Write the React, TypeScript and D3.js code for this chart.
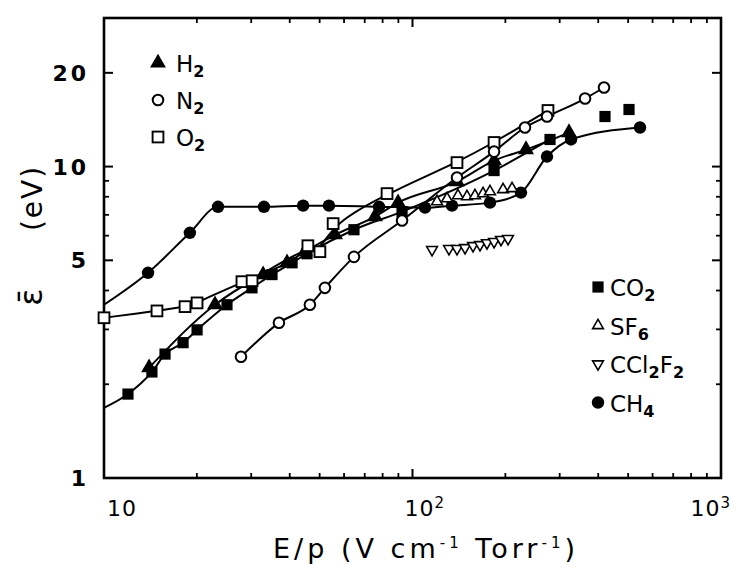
import * as d3 from "d3";

// ---- data (E/p in V cm-1 Torr-1, mean energy in eV) ----------------------
const h2X = [14.0, 22.9, 32.8, 39.2, 44.8, 56.1, 75.6, 89.8, 139.4, 183.8, 233.3, 321.6];
const h2Y = [2.26, 3.6, 4.5, 4.91, 5.33, 6.04, 6.91, 7.66, 8.95, 10.45, 11.34, 12.86];

const n2X = [27.8, 36.9, 46.5, 52.0, 64.6, 92.5, 139.4, 183.8, 231.5, 272.9, 362.5, 417.6];
const n2Y = [2.45, 3.15, 3.6, 4.08, 5.13, 6.71, 9.22, 11.17, 13.35, 14.48, 16.54, 17.95];

const o2X = [10.0, 14.85, 18.31, 20.03, 28.0, 30.2, 45.8, 50.1, 55.3, 82.7, 139.4, 183.8, 274.9];
const o2Y = [3.27, 3.44, 3.55, 3.65, 4.27, 4.3, 5.57, 5.33, 6.56, 8.19, 10.3, 11.95, 15.14];

const co2X = [11.96, 14.3, 15.77, 18.04, 20.03, 25.04, 30.18, 35.04, 40.7, 45.5, 64.6, 92.5, 183.8, 279.1, 420.7, 503.3];
const co2Y = [1.86, 2.19, 2.5, 2.72, 2.99, 3.6, 4.08, 4.5, 4.91, 5.25, 6.27, 7.17, 9.71, 12.22, 14.48, 15.25];
const co2EdgeY = 1.68; // curve value at E/p = 10
const co2CurveMaxX = 300; // points beyond this are not joined

const sf6X = [120.1, 129.4, 140.4, 150.2, 159.4, 169.3, 178.3, 196.6, 210.2];
const sf6Y = [7.72, 7.89, 8.07, 8.01, 8.07, 8.19, 8.31, 8.44, 8.5];

const ccl2f2X = [115.7, 131.3, 139.4, 148.0, 157.1, 165.5, 174.3, 183.8, 193.6, 204.0];
const ccl2f2Y = [5.41, 5.45, 5.45, 5.49, 5.57, 5.61, 5.69, 5.74, 5.83, 5.87];

const ch4X = [13.89, 18.98, 23.42, 33.0, 44.2, 53.6, 77.9, 109.8, 134.3, 178.3, 224.7, 272.9, 326.5, 546.4];
const ch4Y = [4.56, 6.13, 7.43, 7.43, 7.49, 7.49, 7.43, 7.38, 7.49, 7.66, 8.25, 10.77, 12.22, 13.35];
const ch4EdgeY = 3.6;

const xMajorTicks = [10, 100, 1000];
const xMinorTicks = [20, 30, 40, 50, 60, 70, 80, 90, 200, 300, 400, 500, 600, 700, 800, 900];
const yMajorTicks = [1, 5, 10, 20];
const yMinorTicks = [2, 3, 4, 6, 7, 8, 9];
const yTickLabels = ["1", "5", "10", "20"];

type MarkerType =
  | "triFilled"
  | "circleOpen"
  | "squareOpen"
  | "squareFilled"
  | "triOpen"
  | "triDown"
  | "circleFilled";

const FONT = "'DejaVu Sans', sans-serif";
const frame = { left: 104, right: 721, top: 18, bottom: 478 };

const Marker = ({ type, cx, cy }: { type: MarkerType; cx: number; cy: number }) => {
  switch (type) {
    case "circleFilled":
      return <circle cx={cx} cy={cy} r={6.2} fill="#000" />;
    case "circleOpen":
      return <circle cx={cx} cy={cy} r={5.3} fill="#fff" stroke="#000" strokeWidth={2} />;
    case "squareFilled":
      return <rect x={cx - 5.6} y={cy - 5.6} width={11.2} height={11.2} fill="#000" />;
    case "squareOpen":
      return (
        <rect x={cx - 5.4} y={cy - 5.4} width={10.8} height={10.8} fill="#fff" stroke="#000" strokeWidth={1.9} />
      );
    case "triFilled":
      return (
        <path d={d3.symbol(d3.symbolTriangle, 110)() ?? ""} transform={`translate(${cx},${cy})`} fill="#000" />
      );
    case "triOpen":
      return (
        <path
          d={d3.symbol(d3.symbolTriangle, 50)() ?? ""}
          transform={`translate(${cx},${cy})`}
          fill="#fff"
          stroke="#000"
          strokeWidth={1.6}
        />
      );
    case "triDown":
      return (
        <path
          d={d3.symbol(d3.symbolTriangle, 50)() ?? ""}
          transform={`translate(${cx},${cy}) rotate(180)`}
          fill="#fff"
          stroke="#000"
          strokeWidth={1.6}
        />
      );
  }
};

export default function App() {
  const x = d3.scaleLog().domain([10, 1000]).range([frame.left, frame.right]);
  const y = d3.scaleLog().domain([1, 30]).range([frame.bottom, frame.top]);

  const zip = (xs: number[], ys: number[]) => xs.map((v, i) => [v, ys[i]] as [number, number]);

  const line = (curve: d3.CurveFactory) =>
    d3
      .line<[number, number]>()
      .x((d) => x(d[0]))
      .y((d) => y(d[1]))
      .curve(curve);

  const curves = [
    line(d3.curveMonotoneX)([[10, ch4EdgeY], ...zip(ch4X, ch4Y)]),
    line(d3.curveMonotoneX)([[10, co2EdgeY], ...zip(co2X, co2Y).filter((d) => d[0] < co2CurveMaxX)]),
    line(d3.curveMonotoneX)(zip(h2X, h2Y)),
    line(d3.curveBasis)(zip(o2X, o2Y)),
    line(d3.curveMonotoneX)(zip(n2X, n2Y)),
  ];

  const series: { xs: number[]; ys: number[]; type: MarkerType }[] = [
    { xs: ch4X, ys: ch4Y, type: "circleFilled" },
    { xs: co2X, ys: co2Y, type: "squareFilled" },
    { xs: h2X, ys: h2Y, type: "triFilled" },
    { xs: sf6X, ys: sf6Y, type: "triOpen" },
    { xs: ccl2f2X, ys: ccl2f2Y, type: "triDown" },
    { xs: o2X, ys: o2Y, type: "squareOpen" },
    { xs: n2X, ys: n2Y, type: "circleOpen" },
  ];

  const legendLeft: { type: MarkerType; main: string; sub: string }[] = [
    { type: "triFilled", main: "H", sub: "2" },
    { type: "circleOpen", main: "N", sub: "2" },
    { type: "squareOpen", main: "O", sub: "2" },
  ];
  const legendRight: { type: MarkerType; parts: [string, string][] }[] = [
    { type: "squareFilled", parts: [["CO", "2"]] },
    { type: "triOpen", parts: [["SF", "6"]] },
    { type: "triDown", parts: [["CCl", "2"], ["F", "2"]] },
    { type: "circleFilled", parts: [["CH", "4"]] },
  ];

  return (
    <svg
      width={734}
      height={565}
      style={{ position: "absolute", left: 0, top: 0, background: "#fff" }}
      fontFamily={FONT}
    >
      {/* ticks: bottom/top */}
      {xMajorTicks.map((t) => (
        <g key={`xM${t}`}>
          <line x1={x(t)} x2={x(t)} y1={frame.bottom} y2={frame.bottom - 9} stroke="#000" strokeWidth={2} />
          <line x1={x(t)} x2={x(t)} y1={frame.top} y2={frame.top + 9} stroke="#000" strokeWidth={2} />
        </g>
      ))}
      {xMinorTicks.map((t) => (
        <g key={`xm${t}`}>
          <line x1={x(t)} x2={x(t)} y1={frame.bottom} y2={frame.bottom - 5} stroke="#000" strokeWidth={1.8} />
          <line x1={x(t)} x2={x(t)} y1={frame.top} y2={frame.top + 5} stroke="#000" strokeWidth={1.8} />
        </g>
      ))}
      {/* ticks: left/right */}
      {yMajorTicks.map((t) => (
        <g key={`yM${t}`}>
          <line x1={frame.left} x2={frame.left + 9} y1={y(t)} y2={y(t)} stroke="#000" strokeWidth={2} />
          <line x1={frame.right} x2={frame.right - 9} y1={y(t)} y2={y(t)} stroke="#000" strokeWidth={2} />
        </g>
      ))}
      {yMinorTicks.map((t) => (
        <g key={`ym${t}`}>
          <line x1={frame.left} x2={frame.left + 5} y1={y(t)} y2={y(t)} stroke="#000" strokeWidth={1.8} />
          <line x1={frame.right} x2={frame.right - 5} y1={y(t)} y2={y(t)} stroke="#000" strokeWidth={1.8} />
        </g>
      ))}

      {/* frame */}
      <rect
        x={frame.left}
        y={frame.top}
        width={frame.right - frame.left}
        height={frame.bottom - frame.top}
        fill="none"
        stroke="#000"
        strokeWidth={2.6}
      />

      {/* curves */}
      {curves.map((d, i) => (
        <path key={i} d={d ?? ""} fill="none" stroke="#000" strokeWidth={2} />
      ))}

      {/* markers */}
      {series.map((s, si) =>
        s.xs.map((v, i) => <Marker key={`${si}-${i}`} type={s.type} cx={x(v)} cy={y(s.ys[i])} />),
      )}

      {/* y tick labels */}
      {yMajorTicks.map((t, i) => (
        <text key={`yl${t}`} x={89} y={y(t) + 8} textAnchor="end" fontSize={22} fontWeight="bold" letterSpacing={3}>
          {yTickLabels[i]}
        </text>
      ))}

      {/* x tick labels */}
      <text x={x(10) + 3} y={516} fontSize={22} letterSpacing={1}>
        10
      </text>
      <text x={x(100) - 8} y={516} fontSize={22} letterSpacing={1}>
        10<tspan dy={-8} fontSize={15}>2</tspan>
      </text>
      <text x={731} y={516} fontSize={22} textAnchor="end" letterSpacing={1}>
        10<tspan dy={-8} fontSize={15}>3</tspan>
      </text>

      {/* axis titles */}
      <text x={273} y={558} fontSize={27} textLength={302} lengthAdjust="spacing">
        E/p (V cm<tspan dy={-10} fontSize={15}>-1</tspan>
        <tspan dy={10}> Torr</tspan>
        <tspan dy={-10} fontSize={15}>-1</tspan>
        <tspan dy={10}>)</tspan>
      </text>
      <text transform="translate(42,198) rotate(-90)" textAnchor="middle" fontSize={28} letterSpacing={2}>
        (eV)
      </text>
      <text transform="translate(42,297) rotate(-90)" textAnchor="middle" fontSize={32}>
        ε̄
      </text>

      {/* legends */}
      {legendLeft.map((l, i) => (
        <g key={l.main} transform={`translate(0,${63 + i * 37})`}>
          <Marker type={l.type} cx={158} cy={0} />
          <text x={176} y={9} fontSize={23}>
            {l.main}
            <tspan dy={5} fontSize={16} fontWeight="bold">
              {l.sub}
            </tspan>
          </text>
        </g>
      ))}
      {legendRight.map((l, i) => (
        <g key={i} transform={`translate(0,${287 + i * 38.5})`}>
          <Marker type={l.type} cx={598} cy={0} />
          <text x={610} y={9} fontSize={23}>
            {l.parts.map(([m, s], k) => (
              <tspan key={k}>
                <tspan dy={k === 0 ? 0 : -5}>{m}</tspan>
                <tspan dy={5} fontSize={16} fontWeight="bold">
                  {s}
                </tspan>
              </tspan>
            ))}
          </text>
        </g>
      ))}
    </svg>
  );
}
